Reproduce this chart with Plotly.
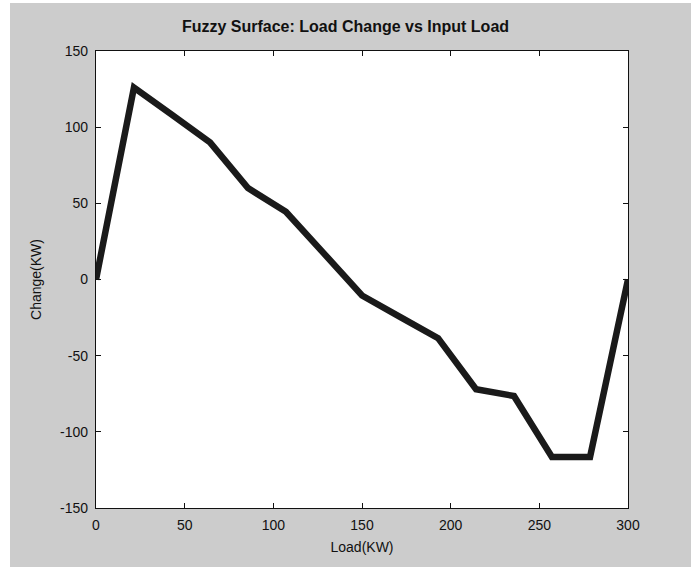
import plotly.graph_objects as go

load_kw = [0, 21.4, 42.9, 64.3, 85.7, 107.1, 128.6, 150.0, 171.4, 192.9, 214.3, 235.7, 257.1, 278.6, 300]
change_kw = [0, 126, 108, 90, 60, 44.5, 17, -10.5, -24.5, -38.5, -72, -76.5, -116.5, -116.5, 0]

x_ticks = [0, 50, 100, 150, 200, 250, 300]
y_ticks = [-150, -100, -50, 0, 50, 100, 150]
x_labels = ["0", "50", "100", "150", "200", "250", "300"]
y_labels = ["-150", "-100", "-50", "0", "50", "100", "150"]

W, H = 691, 567
L, R, T, B = 96, 63, 51, 59
pw, ph = W - L - R, H - T - B

def px(xp):
    return (xp - L) / pw

def py(yp):
    return (H - B - yp) / ph

fig = go.Figure()
fig.add_trace(go.Scatter(x=load_kw, y=change_kw, mode="lines",
                         line=dict(color="#1a1a1a", width=6.5), showlegend=False,
                         cliponaxis=False, hoverinfo="skip"))

font = dict(family="Liberation Sans, Arial, sans-serif", size=14, color="#111111")

axis_common = dict(showline=True, linecolor="#111111", linewidth=1.3, mirror="allticks",
                   ticks="inside", ticklen=5, tickwidth=1.2, tickcolor="#111111",
                   showgrid=False, zeroline=False, tickfont=font)

fig.update_layout(
    width=W, height=H,
    margin=dict(l=L, r=R, t=T, b=B),
    paper_bgcolor="#cccccc", plot_bgcolor="#ffffff",
    title=dict(text="<b>Fuzzy Surface: Load Change vs Input Load</b>",
               x=px(362), xanchor="center", y=1 - 26 / H, yanchor="middle",
               font=dict(family="Liberation Sans, Arial, sans-serif", size=16, color="#111111")),
    xaxis=dict(range=[0, 300], tickvals=x_ticks, ticktext=x_labels, ticklabelstandoff=4,
               title=dict(text="Load(KW)", font=font, standoff=10), **axis_common),
    yaxis=dict(range=[-150, 150], tickvals=y_ticks, ticktext=y_labels, ticklabelstandoff=4,
               title=dict(text="Change(KW)", font=font, standoff=15), **axis_common),
    shapes=[
        dict(type="rect", xref="paper", yref="paper", x0=px(0), x1=px(10), y0=py(H), y1=py(0),
             fillcolor="#ffffff", line=dict(width=0), layer="below"),
        dict(type="rect", xref="paper", yref="paper", x0=px(0), x1=px(W), y0=py(3), y1=py(0),
             fillcolor="#ffffff", line=dict(width=0), layer="below"),
    ],
)

fig.write_html("out.html", config={"displayModeBar": False},
               post_script="document.body.style.margin='0';document.body.style.overflow='hidden';")
